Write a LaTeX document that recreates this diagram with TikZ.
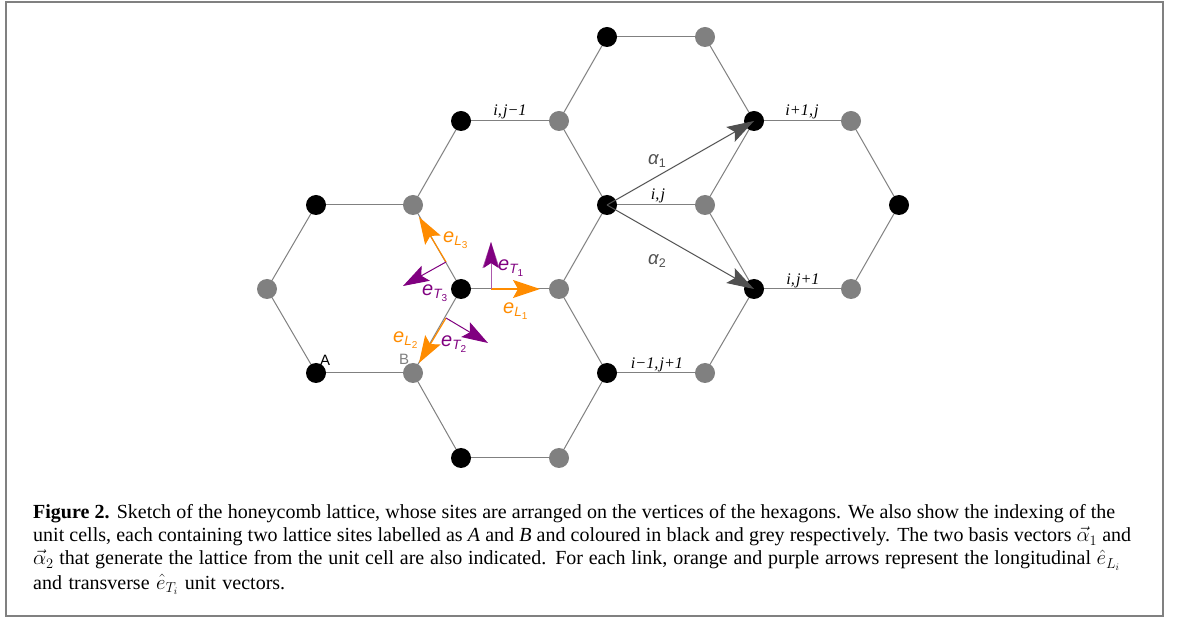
\documentclass[tikz,border=0pt]{standalone}
\usepackage{fontspec}
\setmainfont{Liberation Serif}
\setsansfont{Liberation Sans}
\usetikzlibrary{arrows.meta}
\definecolor{lgrey}{HTML}{808080}
\definecolor{aorange}{HTML}{FF8C00}
\definecolor{apurple}{HTML}{800080}
\definecolor{adark}{HTML}{505050}
\newcommand{\elab}[2]{\fontsize{20}{20}\selectfont\sffamily\itshape e\raisebox{-3pt}{\fontsize{13.5}{13.5}\selectfont #1\raisebox{-3pt}{\fontsize{10}{10}\selectfont\upshape #2}}}
\newcommand{\alab}[1]{\fontsize{18.5}{18.5}\selectfont\sffamily\itshape α\raisebox{-3pt}{\fontsize{12.5}{12.5}\selectfont\upshape #1}}
\newcommand{\capline}[2]{\hbox to #1pt{\spaceskip=0.25em plus 0.3em minus 0.1em\relax #2}}
\newcommand{\cm}{,\kern1pt}
\tikzset{
  x=1pt,y=-1pt,
  blk/.style={circle,fill=black,inner sep=0pt,minimum size=20pt},
  gry/.style={circle,fill=lgrey,inner sep=0pt,minimum size=20pt},
  bond/.style={draw=lgrey,line width=1pt},
  arrL/.style={draw=aorange,line width=1.2pt,-{Stealth[length=27pt,width=18pt,inset=5pt]}},
  arrT/.style={draw=apurple,line width=1pt,-{Stealth[length=26pt,width=17pt,inset=5pt]}},
  arrA/.style={draw=adark,line width=1pt,-{Stealth[length=27pt,width=17pt,inset=5pt]}},
  idx/.style={font=\fontsize{16.2}{16.2}\selectfont\itshape,inner sep=0pt,anchor=base},
  lab/.style={inner sep=0pt,anchor=base west},
  sitelab/.style={font=\fontsize{15}{15}\selectfont\sffamily,inner sep=0pt},
  captext/.style={font=\fontsize{20}{20}\selectfont,anchor=base west,inner sep=0pt},
}
\begin{document}
\begin{tikzpicture}
\useasboundingbox (0,0) rectangle (1179,617);
\fill[white] (0,0) rectangle (1179,617);
\coordinate (fa) at (6,2);
\coordinate (fb) at (1163,615.5);
\draw[lgrey,line width=2pt] (fa) rectangle (fb);
% sites
\foreach \n/\x/\y in {a1/607/37,a2/461/121,a3/754/121,a4/316/205,a5/607/205,a6/899/205,a7/461/289,a8/754/289,a9/316/373,a10/607/373,a11/461/458}
  \coordinate (\n) at (\x,\y);
\foreach \n/\x/\y in {b1/705/37,b2/559/121,b3/851/121,b4/413/205,b5/705/205,b6/267/289,b7/559/289,b8/851/289,b9/413/373,b10/705/373,b11/559/458}
  \coordinate (\n) at (\x,\y);
\foreach \i in {1,2,3,4,5,7,8,9,10,11} \draw[bond] (a\i) -- (b\i);
\foreach \p/\q in {b1/a3,a1/b2,b2/a5,a2/b4,b4/a7,a4/b6,b6/a9,a7/b9,b9/a11,b11/a10,a10/b7,b7/a5,b5/a3,b5/a8,b3/a6,a6/b8,a8/b10}
  \draw[bond] (\p) -- (\q);
\foreach \i in {1,...,11} {
  \node[blk] (A\i) at (a\i) {};
  \node[gry] (B\i) at (b\i) {};
}
% basis vectors
\draw[arrA] (a5) -- (a3);
\draw[arrA] (a5) -- (a8);
% unit vectors
\coordinate (t1) at (491,289);
\coordinate (t1e) at (491,242);
\coordinate (t2) at (446,318);
\coordinate (t2e) at (488,343);
\coordinate (t3) at (446,262);
\coordinate (t3e) at (403,286);
\coordinate (l1e) at (540,289);
\coordinate (l2e) at (419,363);
\coordinate (l3e) at (419,217);
\draw[arrL] (t1) -- (l1e);
\draw[arrL] (t2) -- (l2e);
\draw[arrL] (t3) -- (l3e);
\draw[arrT,draw=apurple!65] (t1) -- (t1e);
\fill[apurple] (491,242) -- (498.5,268) -- (491,263) -- (483.5,268) -- cycle;
\draw[arrT] (t2) -- (t2e);
\draw[arrT] (t3) -- (t3e);
% labels
\node[lab,text=apurple] (tT1) at (498,270.5) {\elab{T}{1}};
\node[lab,text=aorange] (tL1) at (503,314) {\elab{L}{1}};
\node[lab,text=aorange] (tL3) at (443,243) {\elab{L}{3}};
\node[lab,text=apurple] (tT3) at (422,296) {\elab{T}{3}};
\node[lab,text=aorange] (tL2) at (393,343) {\elab{L}{2}};
\node[lab,text=apurple] (tT2) at (441,347) {\elab{T}{2}};
\node[sitelab,text=black] (tA) at (325,360) {A};
\node[sitelab,text=lgrey] (tB) at (404,359) {B};
\node[lab,text=adark] (al1) at (648,165) {\alab{1}};
\node[lab,text=adark] (al2) at (648,265) {\alab{2}};
\node[idx] (i1) at (510,116) {i\cm j−1};
\node[idx] (i2) at (658,200) {i\cm j};
\node[idx] (i3) at (802,116) {i+1\cm j};
\node[idx] (i4) at (803,285) {i\cm j+1};
\node[idx] (i5) at (657,369) {i−1\cm j+1};
% caption
\node[captext] (c1) at (33,519) {\capline{1082}{\textbf{Figure 2.} Sketch of the honeycomb lattice, whose sites are arranged on the vertices of the hexagons. We also show the indexing of the}};
\node[captext] (c2) at (33,542) {\capline{1098}{unit cells, each containing two lattice sites labelled as \textit{A} and \textit{B} and coloured in black and grey respectively. The two basis vectors $\vec{\alpha}_1$ and}};
\node[captext] (c3) at (33,565) {\capline{1087}{$\vec{\alpha}_2$ that generate the lattice from the unit cell are also indicated. For each link, orange and purple arrows represent the longitudinal $\hat{e}_{L_i}$}};
\node[captext] (c4) at (33,589) {\capline{252}{and transverse $\hat{e}_{T_i}$ unit vectors.}};
\end{tikzpicture}
\end{document}
